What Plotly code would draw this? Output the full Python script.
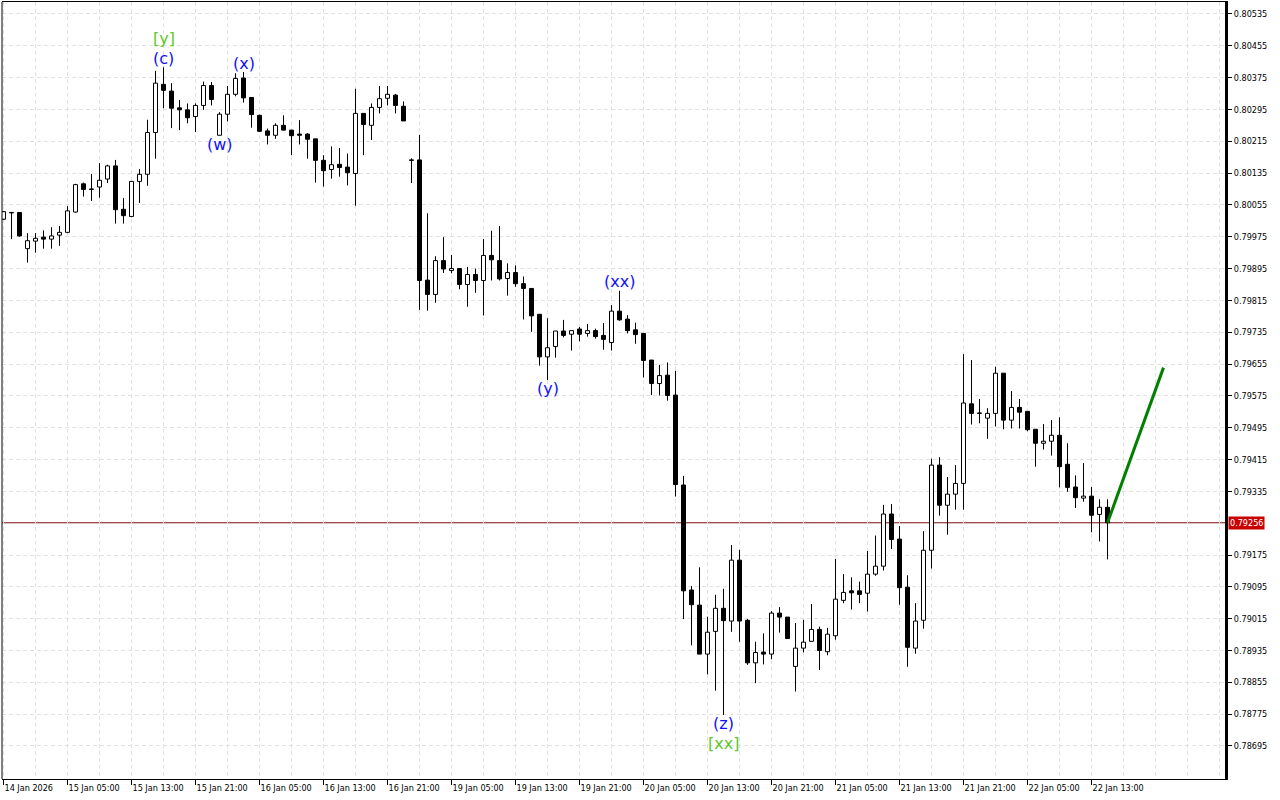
import plotly.graph_objects as go

# ---------------- data (H1 candles, bar index 0 = 14 Jan 2026 21:00) ----------------
opens = [0.80019, 0.80036, 0.80036, 0.79945, 0.79964, 0.79974, 0.79969, 0.79979, 0.79986, 0.80037,
         0.80108, 0.80095, 0.80100, 0.80120, 0.80153, 0.80044, 0.80026, 0.80114, 0.80132, 0.80237,
         0.80358, 0.80341, 0.80299, 0.80294, 0.80277, 0.80305, 0.80355, 0.80230, 0.80283, 0.80333,
         0.80374, 0.80325, 0.80280, 0.80241, 0.80230, 0.80255, 0.80243, 0.80233, 0.80233, 0.80221,
         0.80167, 0.80144, 0.80157, 0.80150, 0.80134, 0.80285, 0.80255, 0.80300, 0.80323, 0.80331,
         0.80303, 0.80168, 0.80168, 0.79866, 0.79830, 0.79915, 0.79890, 0.79895, 0.79855, 0.79880,
         0.79865, 0.79928, 0.79915, 0.79870, 0.79885, 0.79857, 0.79845, 0.79780, 0.79673, 0.79699,
         0.79738, 0.79730, 0.79743, 0.79732, 0.79739, 0.79727, 0.79709, 0.79788, 0.79768, 0.79741,
         0.79732, 0.79665, 0.79606, 0.79627, 0.79577, 0.79351, 0.79087, 0.79049, 0.78926, 0.78983,
         0.79041, 0.79009, 0.79162, 0.79011, 0.78904, 0.78931, 0.78926, 0.79029, 0.79019, 0.78895,
         0.78941, 0.78958, 0.78988, 0.78932, 0.78972, 0.79061, 0.79085, 0.79085, 0.79079, 0.79127,
         0.79147, 0.79278, 0.79215, 0.79094, 0.78941, 0.79011, 0.79187, 0.79401, 0.79300, 0.79328,
         0.79355, 0.79555, 0.79532, 0.79519, 0.79531, 0.79632, 0.79514, 0.79546, 0.79536, 0.79491,
         0.79456, 0.79461, 0.79476, 0.79403, 0.79346, 0.79318, 0.79323, 0.79277, 0.79295]
highs = [0.80040, 0.80037, 0.80037, 0.79984, 0.79984, 0.79991, 0.79999, 0.80002, 0.80052, 0.80108,
         0.80111, 0.80133, 0.80160, 0.80156, 0.80168, 0.80072, 0.80114, 0.80145, 0.80269, 0.80392,
         0.80401, 0.80361, 0.80319, 0.80310, 0.80310, 0.80365, 0.80364, 0.80288, 0.80354, 0.80386,
         0.80389, 0.80325, 0.80282, 0.80247, 0.80260, 0.80280, 0.80243, 0.80268, 0.80235, 0.80221,
         0.80180, 0.80202, 0.80198, 0.80184, 0.80347, 0.80285, 0.80310, 0.80354, 0.80354, 0.80334,
         0.80315, 0.80172, 0.80231, 0.80034, 0.79926, 0.79974, 0.79929, 0.79895, 0.79899, 0.79895,
         0.79969, 0.79990, 0.80002, 0.79908, 0.79903, 0.79875, 0.79845, 0.79780, 0.79770, 0.79738,
         0.79766, 0.79739, 0.79748, 0.79756, 0.79744, 0.79758, 0.79803, 0.79839, 0.79778, 0.79759,
         0.79732, 0.79665, 0.79653, 0.79659, 0.79638, 0.79374, 0.79097, 0.79144, 0.79020, 0.79075,
         0.79090, 0.79200, 0.79188, 0.79014, 0.78957, 0.78978, 0.79034, 0.79044, 0.79019, 0.79004,
         0.79012, 0.79052, 0.78995, 0.78992, 0.79165, 0.79127, 0.79119, 0.79108, 0.79185, 0.79224,
         0.79301, 0.79303, 0.79248, 0.79124, 0.79054, 0.79235, 0.79417, 0.79421, 0.79371, 0.79401,
         0.79680, 0.79665, 0.79567, 0.79544, 0.79648, 0.79632, 0.79587, 0.79567, 0.79536, 0.79491,
         0.79504, 0.79514, 0.79521, 0.79456, 0.79375, 0.79406, 0.79346, 0.79315, 0.79315]
lows = [0.80017, 0.79969, 0.79975, 0.79910, 0.79935, 0.79945, 0.79945, 0.79952, 0.79984, 0.80036,
        0.80076, 0.80065, 0.80073, 0.80110, 0.80008, 0.80008, 0.80024, 0.80060, 0.80103, 0.80171,
        0.80298, 0.80248, 0.80243, 0.80260, 0.80238, 0.80294, 0.80305, 0.80230, 0.80265, 0.80328,
        0.80312, 0.80249, 0.80238, 0.80207, 0.80221, 0.80242, 0.80180, 0.80207, 0.80171, 0.80111,
        0.80101, 0.80121, 0.80126, 0.80104, 0.80053, 0.80180, 0.80218, 0.80285, 0.80305, 0.80285,
        0.80266, 0.80110, 0.79791, 0.79789, 0.79809, 0.79884, 0.79883, 0.79843, 0.79799, 0.79834,
        0.79777, 0.79865, 0.79865, 0.79827, 0.79849, 0.79767, 0.79736, 0.79651, 0.79615, 0.79671,
        0.79722, 0.79689, 0.79712, 0.79724, 0.79719, 0.79691, 0.79689, 0.79764, 0.79732, 0.79706,
        0.79621, 0.79577, 0.79576, 0.79563, 0.79322, 0.79014, 0.78948, 0.78926, 0.78875, 0.78834,
        0.78773, 0.78982, 0.78957, 0.78899, 0.78853, 0.78900, 0.78913, 0.78980, 0.78965, 0.78832,
        0.78930, 0.78958, 0.78886, 0.78923, 0.78962, 0.79054, 0.79038, 0.79054, 0.79033, 0.79123,
        0.79136, 0.79190, 0.79050, 0.78894, 0.78927, 0.78990, 0.79141, 0.79274, 0.79226, 0.79289,
        0.79289, 0.79503, 0.79506, 0.79467, 0.79498, 0.79491, 0.79493, 0.79493, 0.79486, 0.79397,
        0.79440, 0.79425, 0.79345, 0.79334, 0.79293, 0.79309, 0.79232, 0.79209, 0.79164]
closes = [0.80038, 0.80035, 0.79977, 0.79965, 0.79971, 0.79969, 0.79977, 0.79986, 0.80040, 0.80106,
          0.80094, 0.80094, 0.80117, 0.80153, 0.80043, 0.80028, 0.80114, 0.80132, 0.80237, 0.80361,
          0.80343, 0.80298, 0.80294, 0.80274, 0.80305, 0.80355, 0.80320, 0.80283, 0.80333, 0.80373,
          0.80324, 0.80282, 0.80240, 0.80230, 0.80255, 0.80243, 0.80229, 0.80230, 0.80220, 0.80167,
          0.80141, 0.80156, 0.80149, 0.80136, 0.80285, 0.80257, 0.80300, 0.80322, 0.80333, 0.80305,
          0.80266, 0.80167, 0.79865, 0.79830, 0.79915, 0.79894, 0.79895, 0.79855, 0.79880, 0.79865,
          0.79928, 0.79917, 0.79869, 0.79885, 0.79857, 0.79845, 0.79776, 0.79673, 0.79696, 0.79738,
          0.79727, 0.79739, 0.79730, 0.79739, 0.79724, 0.79717, 0.79788, 0.79766, 0.79739, 0.79729,
          0.79664, 0.79606, 0.79626, 0.79576, 0.79352, 0.79085, 0.79050, 0.78926, 0.78981, 0.79041,
          0.79010, 0.79162, 0.79009, 0.78904, 0.78930, 0.78926, 0.79029, 0.79019, 0.78965, 0.78941,
          0.78956, 0.78988, 0.78935, 0.78976, 0.79064, 0.79081, 0.79080, 0.79076, 0.79127, 0.79147,
          0.79278, 0.79214, 0.79093, 0.78943, 0.79009, 0.79187, 0.79401, 0.79300, 0.79328, 0.79355,
          0.79557, 0.79531, 0.79531, 0.79531, 0.79632, 0.79514, 0.79546, 0.79534, 0.79490, 0.79456,
          0.79461, 0.79476, 0.79397, 0.79345, 0.79319, 0.79323, 0.79275, 0.79295, 0.79256]

tick_bars = [0, 8, 16, 24, 32, 40, 48, 56, 64, 72, 80, 88, 96, 104, 112, 120, 128, 136]
tick_labels = ["14 Jan 2026", "15 Jan 05:00", "15 Jan 13:00", "15 Jan 21:00", "16 Jan 05:00",
               "16 Jan 13:00", "16 Jan 21:00", "19 Jan 05:00", "19 Jan 13:00", "19 Jan 21:00",
               "20 Jan 05:00", "20 Jan 13:00", "20 Jan 21:00", "21 Jan 05:00", "21 Jan 13:00",
               "21 Jan 21:00", "22 Jan 05:00", "22 Jan 13:00"]

price_ticks = [0.78695, 0.78775, 0.78855, 0.78935, 0.79015, 0.79095, 0.79175,
               0.79335, 0.79415, 0.79495, 0.79575, 0.79655, 0.79735, 0.79815, 0.79895,
               0.79975, 0.80055, 0.80135, 0.80215, 0.80295, 0.80375, 0.80455, 0.80535]

last_price = 0.79256
proj_bars = [138, 145]
proj_prices = [0.79256, 0.79646]

wave_texts = ["[y]", "(c)", "(x)", "(w)", "(xx)", "(y)", "(z)", "[xx]"]
wave_bars = [20, 20, 30, 27, 77, 68, 90, 90]
wave_sides = ["high", "high", "high", "low", "high", "low", "low", "low"]
wave_levels = [2, 1, 1, 1, 1, 1, 1, 2]

# ---------------- styles ----------------
AX_FONT = "DejaVu Sans Condensed, DejaVu Sans, sans-serif"
GRID = "#e1e1e1"
BLUE = "#1010ff"
LIME = "#5cc82a"
MIN_BODY = 0.000012

n = len(opens)
bars = list(range(n))

wick_x, wick_y = [], []
up_x, up_base, up_h = [], [], []
dn_x, dn_base, dn_h = [], [], []
for i in bars:
    o, h, l, c = opens[i], highs[i], lows[i], closes[i]
    top, bot = max(o, c), min(o, c)
    if h > top:
        wick_x += [i, i, None]
        wick_y += [h, top, None]
    if l < bot:
        wick_x += [i, i, None]
        wick_y += [bot, l, None]
    size = top - bot
    base = bot
    if size < MIN_BODY:
        base = (top + bot) / 2 - MIN_BODY / 2
        size = MIN_BODY
    if c >= o:
        up_x.append(i); up_base.append(base); up_h.append(size)
    else:
        dn_x.append(i); dn_base.append(base); dn_h.append(size)

fig = go.Figure()
fig.add_trace(go.Bar(x=up_x, y=up_h, base=up_base, width=0.5,
                     marker=dict(color="white", line=dict(color="black", width=1)),
                     hoverinfo="skip", showlegend=False))
fig.add_trace(go.Bar(x=dn_x, y=dn_h, base=dn_base, width=0.5,
                     marker=dict(color="black", line=dict(color="black", width=1)),
                     hoverinfo="skip", showlegend=False))
fig.add_trace(go.Scatter(x=wick_x, y=wick_y, mode="lines",
                         line=dict(color="black", width=1),
                         hoverinfo="skip", showlegend=False))
fig.add_trace(go.Scatter(x=proj_bars, y=proj_prices, mode="lines",
                         line=dict(color="#008000", width=3),
                         hoverinfo="skip", showlegend=False))

# current price line
fig.add_shape(type="line", xref="paper", x0=0, x1=1, yref="y", y0=last_price, y1=last_price,
              line=dict(color="#7a1010", width=1), layer="below")
# left border
fig.add_shape(type="line", xref="paper", x0=0, x1=0, yref="paper", y0=0, y1=1,
              line=dict(color="black", width=1))

for t, b, s, lv in zip(wave_texts, wave_bars, wave_sides, wave_levels):
    yv = highs[b] if s == "high" else lows[b]
    shift = 9 if lv == 1 else 29
    fig.add_annotation(x=b, y=yv, text=t, showarrow=False, xanchor="center", yanchor="middle",
                       yshift=shift if s == "high" else -shift,
                       font=dict(family="DejaVu Sans", size=16,
                                 color=BLUE if t.startswith("(") else LIME))

fig.add_annotation(xref="paper", x=1, y=last_price, text="{:.5f}".format(last_price),
                   showarrow=False, xanchor="left", yanchor="middle", xshift=3,
                   bgcolor="#c80000", borderpad=1,
                   font=dict(family=AX_FONT, size=9, color="white"))

plot_w = 1223
x0 = -0.1875
fig.update_layout(
    width=1280, height=800,
    margin=dict(l=2, r=55, t=2, b=21),
    paper_bgcolor="white", plot_bgcolor="white",
    barmode="overlay", showlegend=False,
    xaxis=dict(range=[x0, x0 + plot_w / 8.0], tickmode="array", tickvals=tick_bars,
               ticktext=tick_labels, ticks="outside", ticklen=5, tickcolor="black",
               ticklabelposition="outside right",
               tickfont=dict(family=AX_FONT, size=9, color="black"),
               showline=True, linecolor="black", linewidth=1, mirror=True,
               showgrid=True, gridcolor=GRID, griddash="4px,3px", gridwidth=1,
               minor=dict(tick0=0, dtick=4, showgrid=True, gridcolor=GRID,
                          griddash="4px,3px", gridwidth=1),
               zeroline=False, fixedrange=True),
    yaxis=dict(range=[0.78612, 0.80565], side="right", tickmode="array",
               tickvals=price_ticks, ticktext=["{:.5f}".format(v) for v in price_ticks],
               ticks="outside", ticklen=4, tickcolor="black",
               tickfont=dict(family=AX_FONT, size=9, color="black"),
               showline=True, linecolor="black", linewidth=3,
               showgrid=True, gridcolor=GRID, griddash="4px,3px", gridwidth=1,
               zeroline=False, fixedrange=True),
)

fig.write_html("out.html", config={"displayModeBar": False},
               post_script="document.body.style.margin='0';document.body.style.overflow='hidden';")
